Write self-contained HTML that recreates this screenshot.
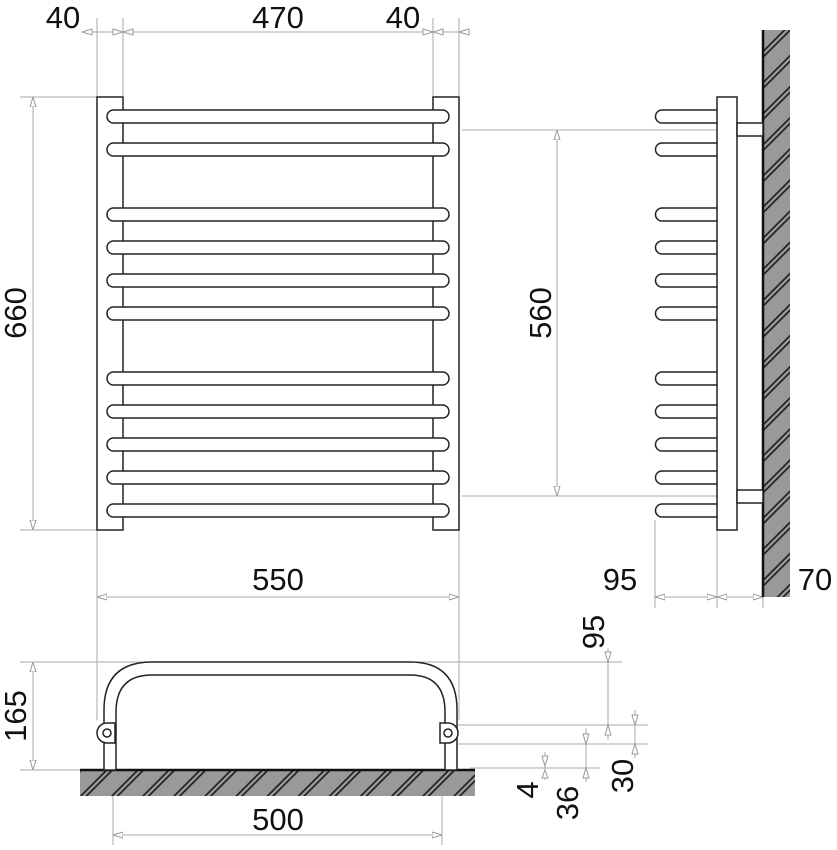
<!DOCTYPE html>
<html><head><style>body{margin:0;background:#fff}svg{display:block}</style></head><body>
<svg width="837" height="850" viewBox="0 0 837 850" xmlns="http://www.w3.org/2000/svg" font-family="Liberation Sans, sans-serif">
<defs>
<pattern id="h" patternUnits="userSpaceOnUse" width="22" height="22" patternTransform="rotate(-45)">
<rect width="22" height="22" fill="#999"/>
<line x1="0" y1="4" x2="22" y2="4" stroke="#111" stroke-width="1.6"/>
<line x1="0" y1="8" x2="22" y2="8" stroke="#111" stroke-width="1.6"/>
</pattern>
<marker id="a" markerWidth="10" markerHeight="8" refX="10" refY="4" orient="auto-start-reverse" markerUnits="userSpaceOnUse"><path d="M0,1 L10,4 L0,7 Z" fill="#fff" stroke="#999"/></marker>
</defs>
<g stroke="#aaa" stroke-width="1" fill="none">
<line x1="97" y1="18" x2="97" y2="720"/><line x1="123" y1="18" x2="123" y2="97"/>
<line x1="433" y1="18" x2="433" y2="97"/><line x1="459" y1="18" x2="459" y2="720"/>
<line x1="82" y1="32" x2="470" y2="32"/>
<line x1="20" y1="97" x2="97" y2="97"/><line x1="20" y1="530" x2="97" y2="530"/>
<line x1="33" y1="97" x2="33" y2="530" marker-start="url(#a)" marker-end="url(#a)"/>
<line x1="97" y1="597" x2="459" y2="597" marker-start="url(#a)" marker-end="url(#a)"/>
<line x1="462" y1="130" x2="717" y2="130"/><line x1="462" y1="496" x2="717" y2="496"/>
<line x1="557" y1="130" x2="557" y2="496" marker-start="url(#a)" marker-end="url(#a)"/>
<line x1="655" y1="520" x2="655" y2="608"/><line x1="717" y1="530" x2="717" y2="608"/><line x1="763" y1="590" x2="763" y2="608"/>
<line x1="655" y1="597" x2="717" y2="597" marker-start="url(#a)" marker-end="url(#a)"/>
<line x1="717" y1="597" x2="763" y2="597" marker-start="url(#a)" marker-end="url(#a)"/>
<line x1="20" y1="662" x2="622" y2="662"/><line x1="20" y1="770" x2="100" y2="770"/>
<line x1="33" y1="662" x2="33" y2="770" marker-start="url(#a)" marker-end="url(#a)"/>
<line x1="113" y1="795" x2="113" y2="845"/><line x1="442" y1="795" x2="442" y2="845"/>
<line x1="113" y1="835" x2="442" y2="835" marker-start="url(#a)" marker-end="url(#a)"/>
<line x1="458" y1="725" x2="648" y2="725"/><line x1="458" y1="744" x2="648" y2="744"/><line x1="470" y1="768" x2="600" y2="768"/>
<line x1="608" y1="648" x2="608" y2="740"/>
<line x1="635" y1="710" x2="635" y2="758"/>
<line x1="586" y1="728" x2="586" y2="782"/>
<line x1="545" y1="752" x2="545" y2="780"/>
</g>
<g fill="#fff" stroke="#999">
<path d="M92,29 L82,32 L92,35Z"/><path d="M113,29 L123,32 L113,35Z"/><path d="M133,29 L123,32 L133,35Z"/>
<path d="M423,29 L433,32 L423,35Z"/><path d="M443,29 L433,32 L443,35Z"/><path d="M469,29 L459,32 L469,35Z"/>
<path d="M605,652 L608,662 L611,652Z"/><path d="M605,735 L608,725 L611,735Z"/>
<path d="M632,715 L635,725 L638,715Z"/><path d="M632,754 L635,744 L638,754Z"/>
<path d="M583,734 L586,744 L589,734Z"/><path d="M583,778 L586,768 L589,778Z"/>
<path d="M542,756 L545,766 L548,756Z"/><path d="M542,778 L545,770 L548,778Z"/>
</g>
<g stroke="#222" stroke-width="1.5" fill="#fff">
<rect x="97" y="97" width="26" height="433"/>
<rect x="433" y="97" width="26" height="433"/>
<rect x="107" y="110" width="342" height="13" rx="6.5"/>
<rect x="107" y="143" width="342" height="13" rx="6.5"/>
<rect x="107" y="208" width="342" height="13" rx="6.5"/>
<rect x="107" y="241" width="342" height="13" rx="6.5"/>
<rect x="107" y="274" width="342" height="13" rx="6.5"/>
<rect x="107" y="307" width="342" height="13" rx="6.5"/>
<rect x="107" y="372" width="342" height="13" rx="6.5"/>
<rect x="107" y="405" width="342" height="13" rx="6.5"/>
<rect x="107" y="438" width="342" height="13" rx="6.5"/>
<rect x="107" y="471" width="342" height="13" rx="6.5"/>
<rect x="107" y="504" width="342" height="13" rx="6.5"/>
</g>
<rect x="763" y="30" width="27" height="567" fill="url(#h)"/>
<line x1="763" y1="30" x2="763" y2="597" stroke="#111" stroke-width="2.5"/>
<g stroke="#222" stroke-width="1.5" fill="#fff">
<path d="M717,110 H662 a6.5,6.5 0 0 0 0,13 H717"/>
<path d="M717,143 H662 a6.5,6.5 0 0 0 0,13 H717"/>
<path d="M717,208 H662 a6.5,6.5 0 0 0 0,13 H717"/>
<path d="M717,241 H662 a6.5,6.5 0 0 0 0,13 H717"/>
<path d="M717,274 H662 a6.5,6.5 0 0 0 0,13 H717"/>
<path d="M717,307 H662 a6.5,6.5 0 0 0 0,13 H717"/>
<path d="M717,372 H662 a6.5,6.5 0 0 0 0,13 H717"/>
<path d="M717,405 H662 a6.5,6.5 0 0 0 0,13 H717"/>
<path d="M717,438 H662 a6.5,6.5 0 0 0 0,13 H717"/>
<path d="M717,471 H662 a6.5,6.5 0 0 0 0,13 H717"/>
<path d="M717,504 H662 a6.5,6.5 0 0 0 0,13 H717"/>
<rect x="717" y="97" width="20" height="433"/>
<rect x="737" y="123" width="26" height="13"/>
<rect x="737" y="490" width="26" height="13"/>
</g>
<rect x="80" y="770" width="395" height="26" fill="url(#h)"/>
<line x1="80" y1="770" x2="475" y2="770" stroke="#111" stroke-width="2.5"/>
<g stroke="#222" stroke-width="1.5" fill="#fff">
<path d="M104,770 V710 Q104,662 152,662 H410 Q457,662 457,710 V770 H445 V712 Q445,675 410,675 H152 Q116,675 116,712 V770 Z"/>
<path d="M97,733 a10,10 0 0 1 10,-10 H115 V743 H107 a10,10 0 0 1 -10,-10Z"/>
<path d="M458,733 a10,10 0 0 0 -10,-10 H440 V743 H448 a10,10 0 0 0 10,-10Z"/>
<circle cx="107" cy="733" r="4"/><circle cx="448" cy="733" r="4"/>
</g>
<g font-size="31" fill="#111">
<text x="63" y="28" text-anchor="middle">40</text>
<text x="278" y="28" text-anchor="middle">470</text>
<text x="403" y="28" text-anchor="middle">40</text>
<text x="278" y="590" text-anchor="middle">550</text>
<text x="278" y="830" text-anchor="middle">500</text>
<text x="620" y="590" text-anchor="middle">95</text>
<text x="815" y="590" text-anchor="middle">70</text>
<text transform="translate(26,313) rotate(-90)" text-anchor="middle">660</text>
<text transform="translate(551,313) rotate(-90)" text-anchor="middle">560</text>
<text transform="translate(26,716) rotate(-90)" text-anchor="middle">165</text>
<text transform="translate(604,632) rotate(-90)" text-anchor="middle">95</text>
<text transform="translate(633,776) rotate(-90)" text-anchor="middle">30</text>
<text transform="translate(578,803) rotate(-90)" text-anchor="middle">36</text>
<text transform="translate(538,790) rotate(-90)" text-anchor="middle">4</text>
</g>
</svg>
</body></html>
